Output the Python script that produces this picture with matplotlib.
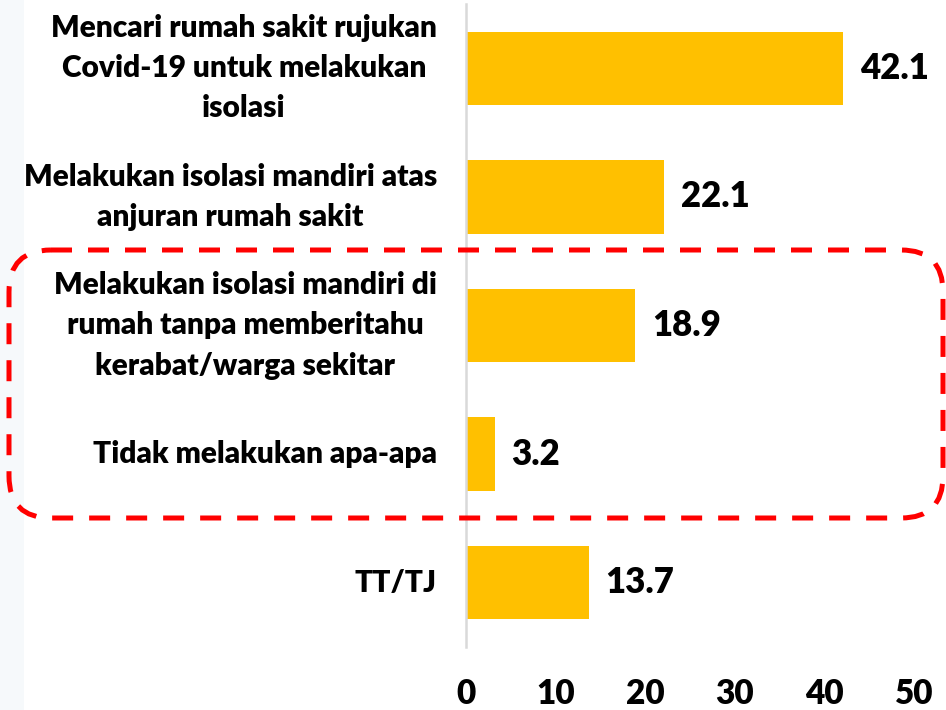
import matplotlib
matplotlib.use("Agg")
import matplotlib.pyplot as plt
from matplotlib.patches import FancyBboxPatch, Rectangle

plt.rcParams['font.family'] = ['Lato', 'DejaVu Sans']

categories = [
    "Mencari rumah sakit rujukan\nCovid-19 untuk melakukan\nisolasi",
    "Melakukan isolasi mandiri atas\nanjuran rumah sakit",
    "Melakukan isolasi mandiri di\nrumah tanpa memberitahu\nkerabat/warga sekitar",
    "Tidak melakukan apa-apa",
    "TT/TJ",
]
values = [42.1, 22.1, 18.9, 3.2, 13.7]
xticks = [0, 10, 20, 30, 40, 50]

W = 'heavy'

fig = plt.figure(figsize=(9.46, 7.10), dpi=100)

# faint background strip on the far left
bg = fig.add_axes([0, 0, 1, 1], zorder=0)
bg.set_xlim(0, 946); bg.set_ylim(710, 0); bg.axis('off')
bg.add_patch(Rectangle((0, 0), 24, 710, color='#f6f9fb', lw=0))

ax = fig.add_axes([466/946, 63/710, 448/946, 643/710], zorder=1)
ax.patch.set_alpha(0)
y = list(range(len(categories)))
ax.barh(y, values, height=0.57, color='#FFC000')
ax.set_ylim(len(categories) - 0.5, -0.5)
ax.set_xlim(0, 50)
ax.set_xticks(xticks)
ax.set_xticklabels([str(t) for t in xticks], fontsize=24, fontweight=W)
ax.set_yticks(y)
ax.set_yticklabels(categories, fontsize=21.5, fontweight=W, multialignment='center',
                   linespacing=1.53)
for lab in ax.get_yticklabels():
    lab.set_verticalalignment('center')
ax.tick_params(axis='x', length=0, pad=22)
ax.tick_params(axis='y', length=0, pad=21)
for s in ['top', 'right', 'bottom']:
    ax.spines[s].set_visible(False)
ax.spines['left'].set_color('#d9d9d9')
ax.spines['left'].set_linewidth(1.8)

for yi, v in zip(y, values):
    ax.annotate(f"{v:.1f}", xy=(v, yi), xytext=(12, 0), textcoords='offset points',
                ha='left', va='center', fontsize=25, fontweight=W)

# dashed rounded highlight box
ov = fig.add_axes([0, 0, 1, 1], zorder=2)
ov.set_xlim(0, 946); ov.set_ylim(710, 0); ov.axis('off')
box = FancyBboxPatch((9, 250), 934, 268, boxstyle="round,pad=0,rounding_size=42",
                     fill=False, edgecolor='#FF0000', linewidth=3.6,
                     linestyle=(0, (4.2, 3.2)))
ov.add_patch(box)

fig.savefig("out.png", dpi=100)
